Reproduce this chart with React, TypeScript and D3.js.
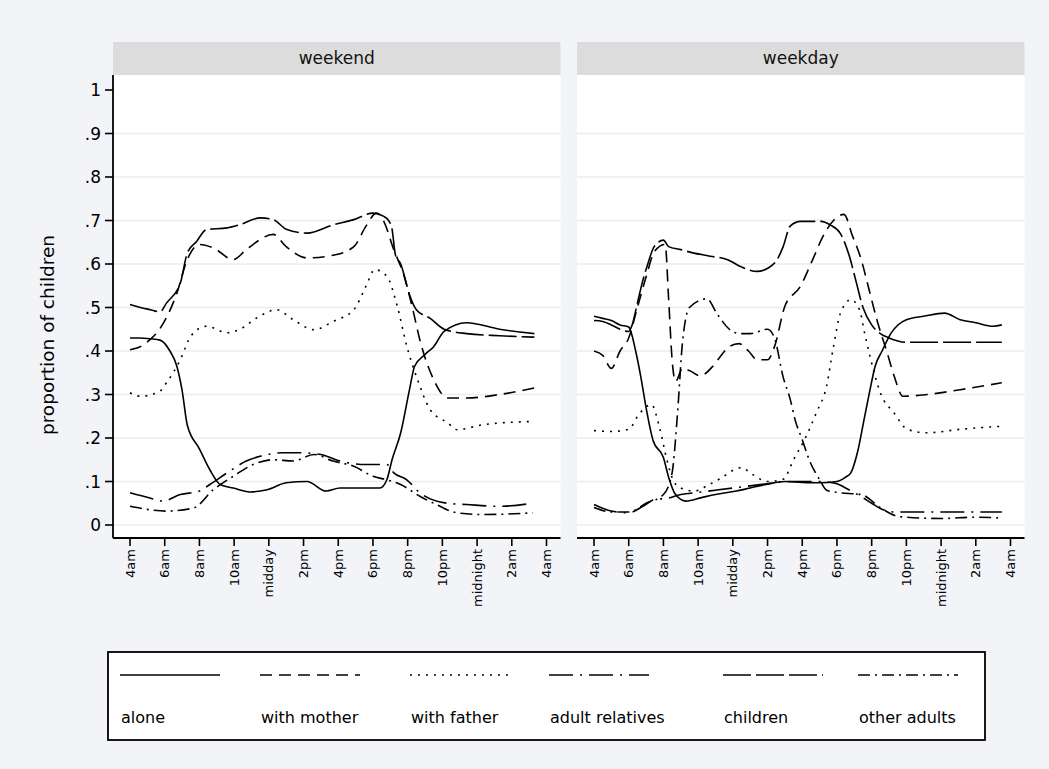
import * as d3 from 'd3'

const WIDTH = 1049
const HEIGHT = 769

// ---- data (hour of day, proportion) ----
const panelTitles = ['weekend', 'weekday']
const seriesNames = ['alone', 'with mother', 'with father', 'adult relatives', 'children', 'other adults']
const dashPatterns = [null, '12 7', '2 6', '24 7 2 7', '28 5', '12 5 2 5']

const xTicks = [4, 6, 8, 10, 12, 14, 16, 18, 20, 22, 24, 26, 28]
const xTickLabels = ['4am', '6am', '8am', '10am', 'midday', '2pm', '4pm', '6pm', '8pm', '10pm', 'midnight', '2am', '4am']
const yTicks = [0, 0.1, 0.2, 0.3, 0.4, 0.5, 0.6, 0.7, 0.8, 0.9, 1]
const yTickLabels = ['0', '.1', '.2', '.3', '.4', '.5', '.6', '.7', '.8', '.9', '1']

const weekendAlone: [number, number][] = [
  [4, 0.43], [4.6, 0.43], [5.15, 0.428], [5.73, 0.425], [6.3, 0.4], [6.7, 0.365], [7, 0.31],
  [7.3, 0.23], [8, 0.175], [8.6, 0.127], [9.2, 0.093], [9.95, 0.085], [10.9, 0.076], [11.9, 0.081],
  [13, 0.097], [14.2, 0.1], [15.3, 0.078], [16.1, 0.085], [17.6, 0.085], [18.4, 0.085], [18.8, 0.104],
  [19.1, 0.15], [19.6, 0.212], [20.1, 0.31], [20.4, 0.365], [21, 0.392], [21.5, 0.41], [22.1, 0.445],
  [23.4, 0.465], [25.3, 0.45], [27.3, 0.44],
]
const weekendMother: [number, number][] = [
  [4, 0.403], [4.6, 0.41], [5.15, 0.426], [5.7, 0.45], [6.7, 0.533], [7.3, 0.61], [8, 0.645],
  [8.8, 0.637], [9.95, 0.61], [10.7, 0.633], [12.26, 0.668], [13, 0.64], [14.2, 0.614], [15.7, 0.62],
  [16.9, 0.64], [17.6, 0.687], [18.2, 0.717], [18.6, 0.7], [19.2, 0.633], [19.8, 0.572], [20.3, 0.495],
  [20.7, 0.426], [21.5, 0.334], [22.3, 0.292], [23.4, 0.292], [25.3, 0.3], [27.3, 0.315],
]
const weekendFather: [number, number][] = [
  [4, 0.304], [4.6, 0.296], [5.7, 0.307], [6.1, 0.327], [6.9, 0.38], [7.5, 0.434], [8.4, 0.457],
  [9.6, 0.442], [10.3, 0.449], [11.3, 0.476], [12.45, 0.495], [13.4, 0.472], [14.6, 0.449],
  [15.7, 0.468], [16.9, 0.495], [17.6, 0.549], [18.1, 0.587], [18.8, 0.572], [19.4, 0.503],
  [19.95, 0.411], [20.5, 0.342], [21.3, 0.265], [22.3, 0.235], [22.85, 0.219], [24.4, 0.231], [27.2, 0.238],
]
const weekendRelatives: [number, number][] = [
  [4, 0.074], [5.15, 0.062], [5.9, 0.055], [6.9, 0.07], [8, 0.078], [8.6, 0.093], [9.6, 0.12],
  [10.7, 0.147], [11.5, 0.158], [12.8, 0.166], [13.8, 0.166], [15, 0.162], [16.1, 0.147],
  [17.6, 0.139], [18.8, 0.139], [19.2, 0.12], [19.95, 0.104], [20.7, 0.074], [22.3, 0.05],
  [23.4, 0.047], [25.3, 0.043], [27.2, 0.05],
]
const weekendChildren: [number, number][] = [
  [4, 0.507], [4.6, 0.5], [5.15, 0.495], [5.73, 0.49], [6.1, 0.51], [6.9, 0.556], [7.3, 0.625],
  [7.84, 0.652], [8.4, 0.679], [9.6, 0.683], [10.3, 0.69], [11.5, 0.706], [12.26, 0.702], [13, 0.68],
  [14.2, 0.671], [15.7, 0.69], [16.9, 0.702], [18, 0.717], [18.6, 0.71], [18.9, 0.7], [19.1, 0.68],
  [19.3, 0.62], [19.6, 0.6], [20.1, 0.53], [20.5, 0.495], [21.3, 0.475], [22.1, 0.45], [23.4, 0.44],
  [25.3, 0.435], [27.3, 0.432],
]
const weekendOthers: [number, number][] = [
  [4, 0.043], [5.15, 0.035], [6.1, 0.032], [7.65, 0.039], [8.8, 0.081], [9.95, 0.112], [11.1, 0.139],
  [12.26, 0.15], [13.4, 0.147], [14.6, 0.162], [15.7, 0.147], [16.9, 0.135], [18, 0.112],
  [18.8, 0.104], [19.6, 0.093], [20.7, 0.066], [21.5, 0.05], [22.85, 0.028], [24.4, 0.024], [27.2, 0.028],
]

const weekdayAlone: [number, number][] = [
  [4, 0.48], [4.5, 0.475], [5, 0.47], [5.5, 0.46], [6, 0.455], [6.4, 0.4], [6.7, 0.34], [7, 0.27],
  [7.4, 0.195], [8, 0.155], [8.3, 0.11], [8.7, 0.07], [9.3, 0.055], [10.2, 0.063], [11, 0.07],
  [12.2, 0.078], [13, 0.085], [14, 0.094], [15, 0.1], [16, 0.098], [17, 0.097], [18, 0.1],
  [18.5, 0.11], [18.8, 0.12], [19.2, 0.17], [19.55, 0.24], [19.9, 0.31], [20.2, 0.365], [20.6, 0.4],
  [21.1, 0.44], [22, 0.472], [23, 0.48], [24.2, 0.487], [25.1, 0.472], [26, 0.465], [27, 0.457], [27.5, 0.46],
]
const weekdayMother: [number, number][] = [
  [4, 0.4], [4.5, 0.39], [5, 0.36], [5.5, 0.4], [6, 0.43], [6.5, 0.5], [7, 0.57], [7.5, 0.63],
  [8.1, 0.645], [8.3, 0.52], [8.5, 0.38], [8.7, 0.33], [9.1, 0.36], [9.5, 0.355], [10.1, 0.343],
  [10.8, 0.363], [11.1, 0.378], [11.8, 0.41], [12.35, 0.417], [12.9, 0.4], [13.4, 0.38], [14, 0.38],
  [14.4, 0.41], [15, 0.503], [15.9, 0.549], [16.6, 0.61], [17.2, 0.664], [17.8, 0.7], [18.4, 0.714],
  [18.9, 0.664], [19.4, 0.61], [19.8, 0.549], [20.3, 0.472], [20.9, 0.395], [21.3, 0.342],
  [21.8, 0.296], [23.2, 0.3], [25.1, 0.311], [27.5, 0.327],
]
const weekdayFather: [number, number][] = [
  [4, 0.217], [5, 0.215], [6, 0.22], [6.6, 0.255], [7.3, 0.277], [7.8, 0.22], [8.2, 0.15],
  [8.6, 0.1], [9, 0.085], [9.8, 0.078], [10.5, 0.09], [11.2, 0.105], [12.5, 0.132], [13.1, 0.117],
  [14, 0.1], [14.9, 0.105], [15.5, 0.15], [16.3, 0.21], [16.8, 0.257], [17.4, 0.319], [17.8, 0.41],
  [18.2, 0.487], [18.8, 0.518], [19.3, 0.495], [19.6, 0.44], [19.95, 0.38], [20.5, 0.304],
  [21.3, 0.257], [22.05, 0.22], [23.2, 0.212], [25.1, 0.22], [27.5, 0.227],
]
const weekdayRelatives: [number, number][] = [
  [4, 0.047], [5, 0.032], [6, 0.028], [6.9, 0.045], [7.6, 0.06], [8, 0.06], [9, 0.07], [10, 0.075],
  [11, 0.08], [12, 0.085], [13, 0.09], [14, 0.095], [15, 0.1], [16, 0.1], [17, 0.1], [18, 0.095],
  [18.5, 0.085], [19.4, 0.065], [20, 0.05], [20.5, 0.038], [21.3, 0.03], [22, 0.03], [24, 0.03],
  [26, 0.03], [27.5, 0.03],
]
const weekdayChildren: [number, number][] = [
  [4, 0.47], [4.5, 0.468], [5, 0.46], [5.5, 0.45], [6, 0.445], [6.2, 0.46], [6.5, 0.51], [6.8, 0.56],
  [7.1, 0.6], [7.4, 0.635], [7.7, 0.65], [8, 0.655], [8.3, 0.64], [9, 0.633], [9.76, 0.625],
  [10.7, 0.618], [11.7, 0.61], [12.4, 0.595], [13.4, 0.583], [14.4, 0.602], [14.9, 0.64],
  [15.3, 0.687], [15.9, 0.698], [17.1, 0.698], [17.6, 0.69], [18.2, 0.67], [18.7, 0.62],
  [19.1, 0.56], [19.5, 0.5], [20, 0.46], [20.5, 0.44], [21, 0.43], [22, 0.42], [23.5, 0.42],
  [25.5, 0.42], [27.5, 0.42],
]
const weekdayOthers: [number, number][] = [
  [4, 0.04], [5, 0.03], [6, 0.03], [7, 0.05], [8, 0.07], [8.5, 0.12], [8.8, 0.25], [9.1, 0.42],
  [9.5, 0.5], [10.5, 0.52], [11.1, 0.485], [11.8, 0.45], [12.4, 0.44], [13, 0.44], [14, 0.45],
  [14.4, 0.43], [14.9, 0.34], [15.3, 0.29], [15.6, 0.24], [16, 0.196], [16.4, 0.15], [17, 0.104],
  [17.4, 0.08], [18, 0.075], [19.4, 0.07], [20.5, 0.04], [21.5, 0.02], [22, 0.018], [24, 0.015],
  [26, 0.018], [27.5, 0.016],
]

const panelData = [
  [weekendAlone, weekendMother, weekendFather, weekendRelatives, weekendChildren, weekendOthers],
  [weekdayAlone, weekdayMother, weekdayFather, weekdayRelatives, weekdayChildren, weekdayOthers],
]

// ---- layout ----
const PANEL_LEFT = [113, 577]
const PANEL_W = 447.5
const PLOT_TOP = 75
const PLOT_BOTTOM = 538
const HEADER_TOP = 42
const LEGEND = { x: 108, y: 652, w: 877, h: 88 }
const LEGEND_COLS = [120, 260, 410, 549, 723, 858]
const FONT = '"DejaVu Sans", sans-serif'

const y = d3.scaleLinear().domain([0, 1]).range([525, 90])

export default function App() {
  return (
    <svg width={WIDTH} height={HEIGHT} style={{ position: 'absolute', left: 0, top: 0 }} fontFamily={FONT}>
      <rect width={WIDTH} height={HEIGHT} fill="#f3f4f8" />

      {panelTitles.map((title, p) => {
        const left = PANEL_LEFT[p]
        const x = d3.scaleLinear().domain([4, 28]).range([left + 17, left + PANEL_W - 14])
        const line = d3.line<[number, number]>()
          .x(d => x(d[0]))
          .y(d => y(d[1]))
          .curve(d3.curveMonotoneX)
        return (
          <g key={title}>
            {/* header strip */}
            <rect x={left} y={HEADER_TOP} width={PANEL_W} height={PLOT_TOP - HEADER_TOP} fill="#dcdcdc" />
            <text x={left + PANEL_W / 2} y={64} textAnchor="middle" fontSize={17} fill="#111">{title}</text>

            {/* plot region */}
            <rect x={left} y={PLOT_TOP} width={PANEL_W} height={PLOT_BOTTOM - PLOT_TOP} fill="#fff" />
            {yTicks.filter(t => t < 1).map(t => (
              <line key={t} x1={left} x2={left + PANEL_W} y1={y(t)} y2={y(t)} stroke="#ececec" strokeWidth={1.5} />
            ))}

            {panelData[p].map((series, i) => (
              <path
                key={seriesNames[i]}
                d={line(series) ?? ''}
                fill="none"
                stroke="#000"
                strokeWidth={1.6}
                strokeDasharray={dashPatterns[i] ?? undefined}
              />
            ))}

            {/* x axis */}
            <line x1={left} x2={left + PANEL_W} y1={PLOT_BOTTOM} y2={PLOT_BOTTOM} stroke="#000" strokeWidth={1.8} />
            {xTicks.map((t, i) => (
              <g key={t} transform={`translate(${x(t)},${PLOT_BOTTOM})`}>
                <line y1={0} y2={8} stroke="#000" strokeWidth={1.6} />
                <text
                  transform="translate(0,11) rotate(-90)"
                  textAnchor="end"
                  dominantBaseline="central"
                  fontSize={13}
                  fill="#000"
                >
                  {xTickLabels[i]}
                </text>
              </g>
            ))}

            {/* y axis only on first panel */}
            {p === 0 && (
              <g>
                <line x1={left} x2={left} y1={PLOT_TOP} y2={PLOT_BOTTOM} stroke="#000" strokeWidth={1.8} />
                {yTicks.map((t, i) => (
                  <g key={t} transform={`translate(${left},${y(t)})`}>
                    <line x1={-8} x2={0} stroke="#000" strokeWidth={1.6} />
                    <text x={-12} textAnchor="end" dominantBaseline="central" fontSize={17} fill="#000">
                      {yTickLabels[i]}
                    </text>
                  </g>
                ))}
              </g>
            )}
          </g>
        )
      })}

      <text transform="translate(47,335) rotate(-90)" textAnchor="middle" dominantBaseline="central" fontSize={18.5} fill="#000">
        proportion of children
      </text>

      {/* legend */}
      <rect x={LEGEND.x} y={LEGEND.y} width={LEGEND.w} height={LEGEND.h} fill="#fff" stroke="#000" strokeWidth={1.8} />
      {seriesNames.map((name, i) => (
        <g key={name} transform={`translate(${LEGEND_COLS[i]},0)`}>
          <line x1={0} x2={100} y1={675} y2={675} stroke="#000" strokeWidth={1.6} strokeDasharray={dashPatterns[i] ?? undefined} />
          <text x={1} y={723} fontSize={16} fill="#000">{name}</text>
        </g>
      ))}
    </svg>
  )
}
